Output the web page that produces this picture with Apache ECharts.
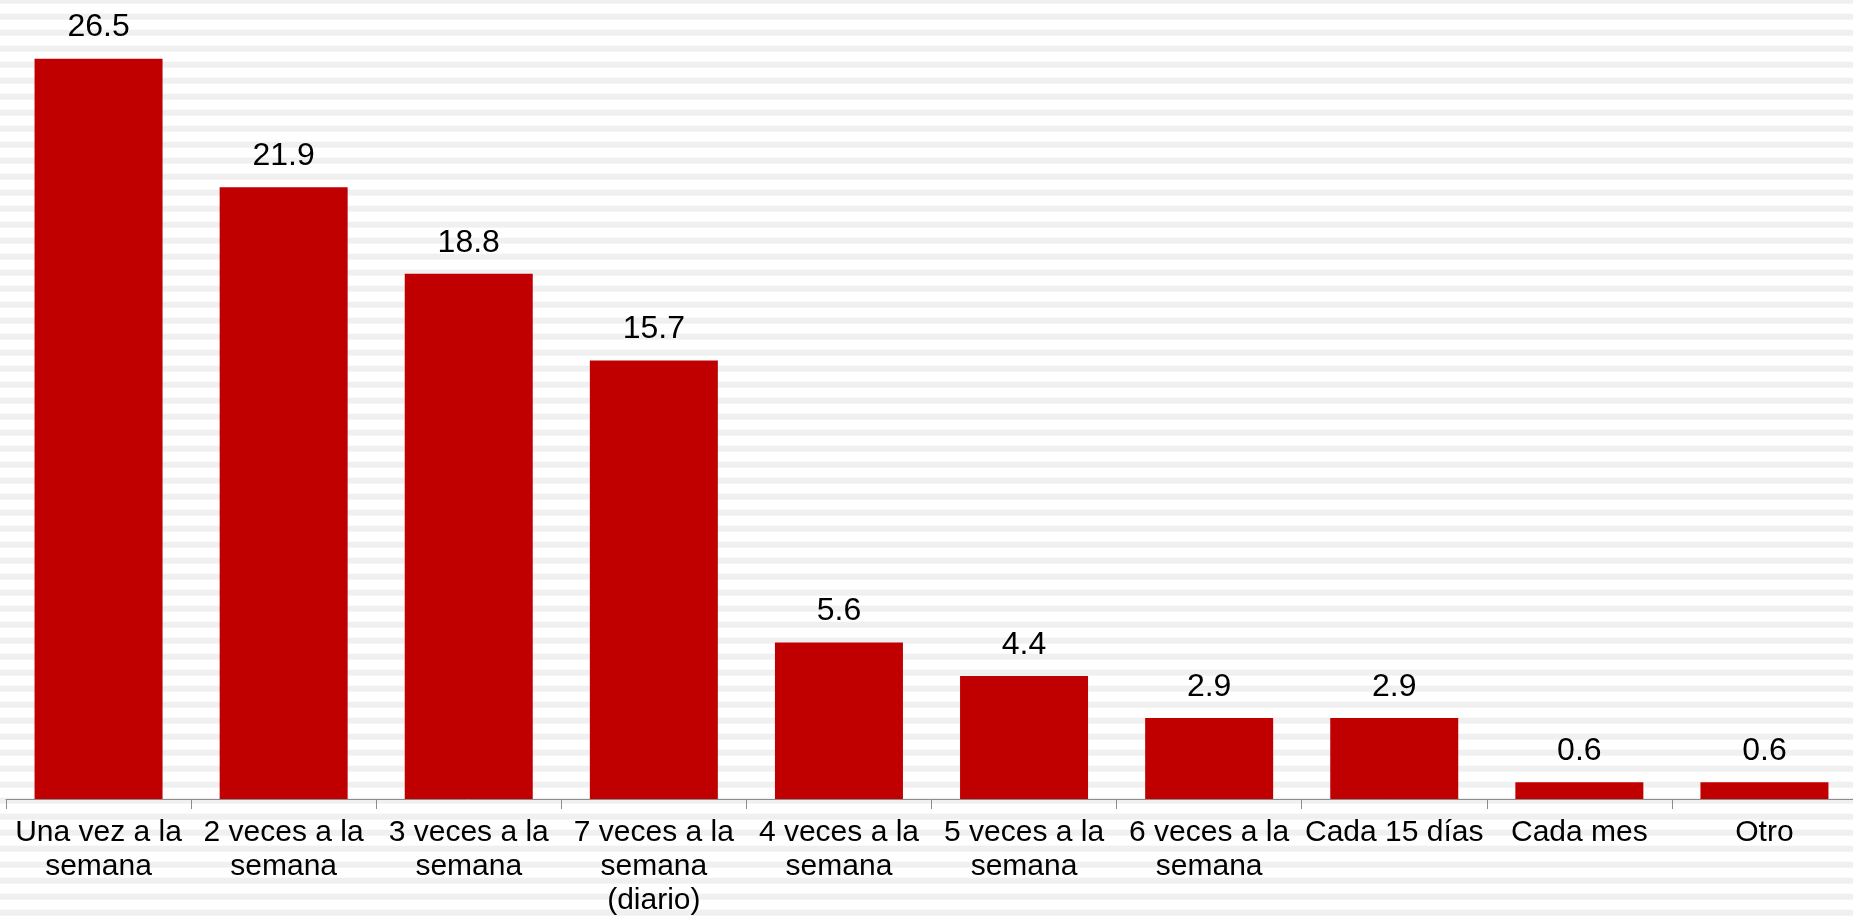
<!DOCTYPE html>
<html>
<head>
<meta charset="utf-8">
<style>
  html, body { margin: 0; padding: 0; width: 1853px; height: 918px; overflow: hidden; }
  body {
    background: #ffffff linear-gradient(to bottom, #f0f0f0 0px, #f0f0f0 5.6px, #ffffff 5.6px, #ffffff 16px) 0 13.7px / 100% 16px repeat;
  }
  #chart { width: 1853px; height: 918px; }
</style>
<script src="https://cdn.jsdelivr.net/npm/echarts@6/dist/echarts.min.js"></script>
</head>
<body>
<div id="chart"></div>
<script>
const categories = [
  "Una vez a la\nsemana",
  "2 veces a la\nsemana",
  "3 veces a la\nsemana",
  "7 veces a la\nsemana\n(diario)",
  "4 veces a la\nsemana",
  "5 veces a la\nsemana",
  "6 veces a la\nsemana",
  "Cada 15 días",
  "Cada mes",
  "Otro"
];
const values = [26.5, 21.9, 18.8, 15.7, 5.6, 4.4, 2.9, 2.9, 0.6, 0.6];

const chart = echarts.init(document.getElementById('chart'), null, { renderer: 'canvas' });
chart.setOption({
  backgroundColor: 'transparent',
  animation: false,
  grid: { left: 6, width: 1851, top: 0, bottom: 119, containLabel: false, outerBoundsMode: 'none' },
  xAxis: {
    type: 'category',
    data: categories,
    axisLine: { show: true, lineStyle: { color: '#8c8c8c', width: 1 } },
    axisTick: { show: true, alignWithLabel: false, length: 10, lineStyle: { color: '#8c8c8c' } },
    axisLabel: {
      interval: 0,
      margin: 17,
      fontFamily: 'Liberation Sans, Arial, sans-serif',
      fontSize: 30,
      lineHeight: 34,
      color: '#000000'
    }
  },
  yAxis: {
    type: 'value',
    min: 0,
    max: 28.6,
    show: false,
    splitLine: { show: false }
  },
  series: [{
    type: 'bar',
    data: values,
    barWidth: 128,
    itemStyle: { color: '#C00000' },
    label: {
      show: true,
      position: 'top',
      distance: 15,
      fontFamily: 'Liberation Sans, Arial, sans-serif',
      fontSize: 32,
      color: '#000000',
      formatter: p => p.value.toFixed(1)
    }
  }]
});
</script>
</body>
</html>
